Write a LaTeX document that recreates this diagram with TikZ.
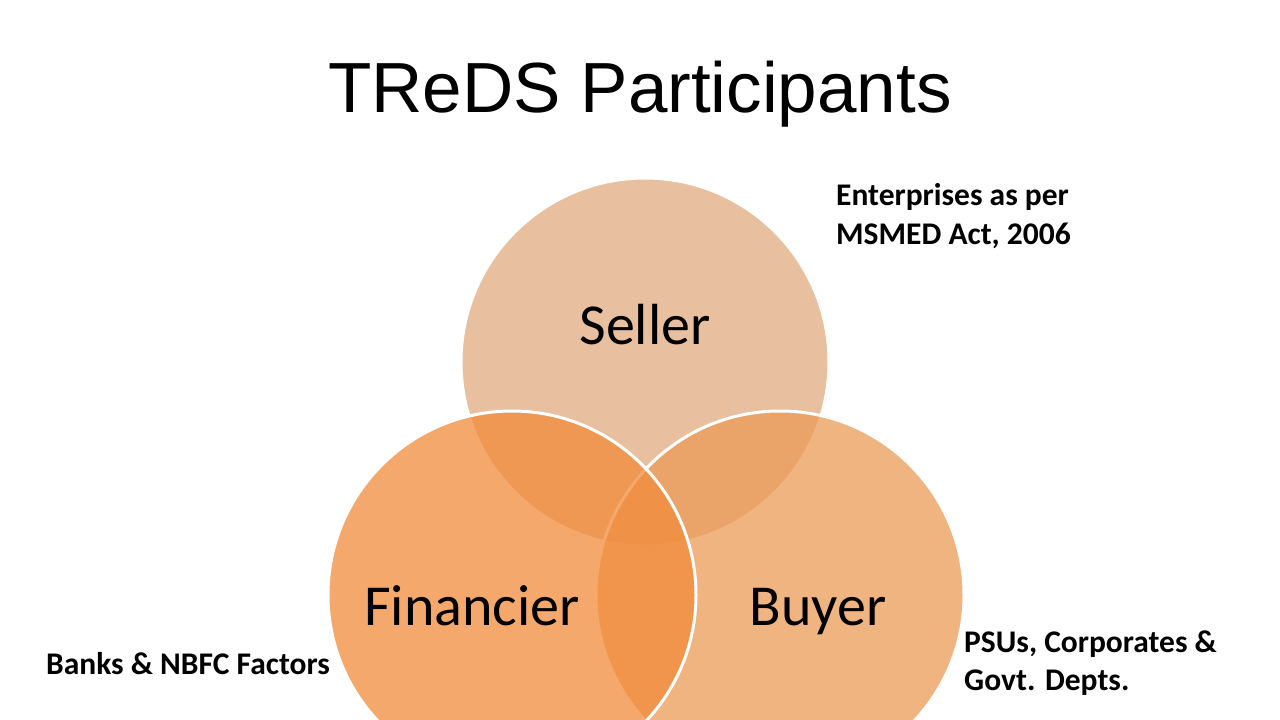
\documentclass[tikz,border=0pt]{standalone}
\usepackage{fontspec}
\setmainfont{Carlito}
\newfontfamily\titlefont{Liberation Sans}
\definecolor{seller-peach}{HTML}{E2AB80}
\definecolor{financier-orange}{HTML}{F28B3B}
\definecolor{buyer-orange}{HTML}{EB9B58}

\tikzset{
  venn/.style={circle, draw=white, line width=3pt, minimum size=368pt,
    fill opacity=0.75, draw opacity=1, inner sep=0pt},
  venntext/.style={font=\fontsize{58}{66}\selectfont, text=black, anchor=base},
  side/.style={font=\bfseries\fontsize{31.5}{38.5}\selectfont, align=left,
    anchor=west, inner sep=0pt}
}

\begin{document}
\begin{tikzpicture}[x=1pt, y=-1pt]
      \clip (0,0) rectangle (1280,720);
      \fill[white] (0,0) rectangle (1280,720);
      % the three circles
      \node[venn, fill=seller-peach] (seller) at (645,362) {};
      \node[venn, fill=buyer-orange] (buyer) at (780,595) {};
      \node[venn, fill=financier-orange] (financier) at (512,595) {};
      % labels
      \node[font=\titlefont\fontsize{71}{80}\selectfont, anchor=base] (title)
        at (640,112) {TReDS Participants};
      \node[venntext] (sellerlbl) at (645,344) {Seller};
      \node[venntext] (financierlbl) at (472,625) {Financier};
      \node[venntext] (buyerlbl) at (818,625) {Buyer};
      \node[side] (sellernote) at (836,216)
        {Enterprises as per\\MSMED Act, 2006};
      \node[side] (financiernote) at (46,664) {Banks \& NBFC Factors};
      \node[side] (buyernote) at (964,663)
        {PSUs, Corporates \&\\Govt. Depts.};
    \end{tikzpicture}
\end{document}
